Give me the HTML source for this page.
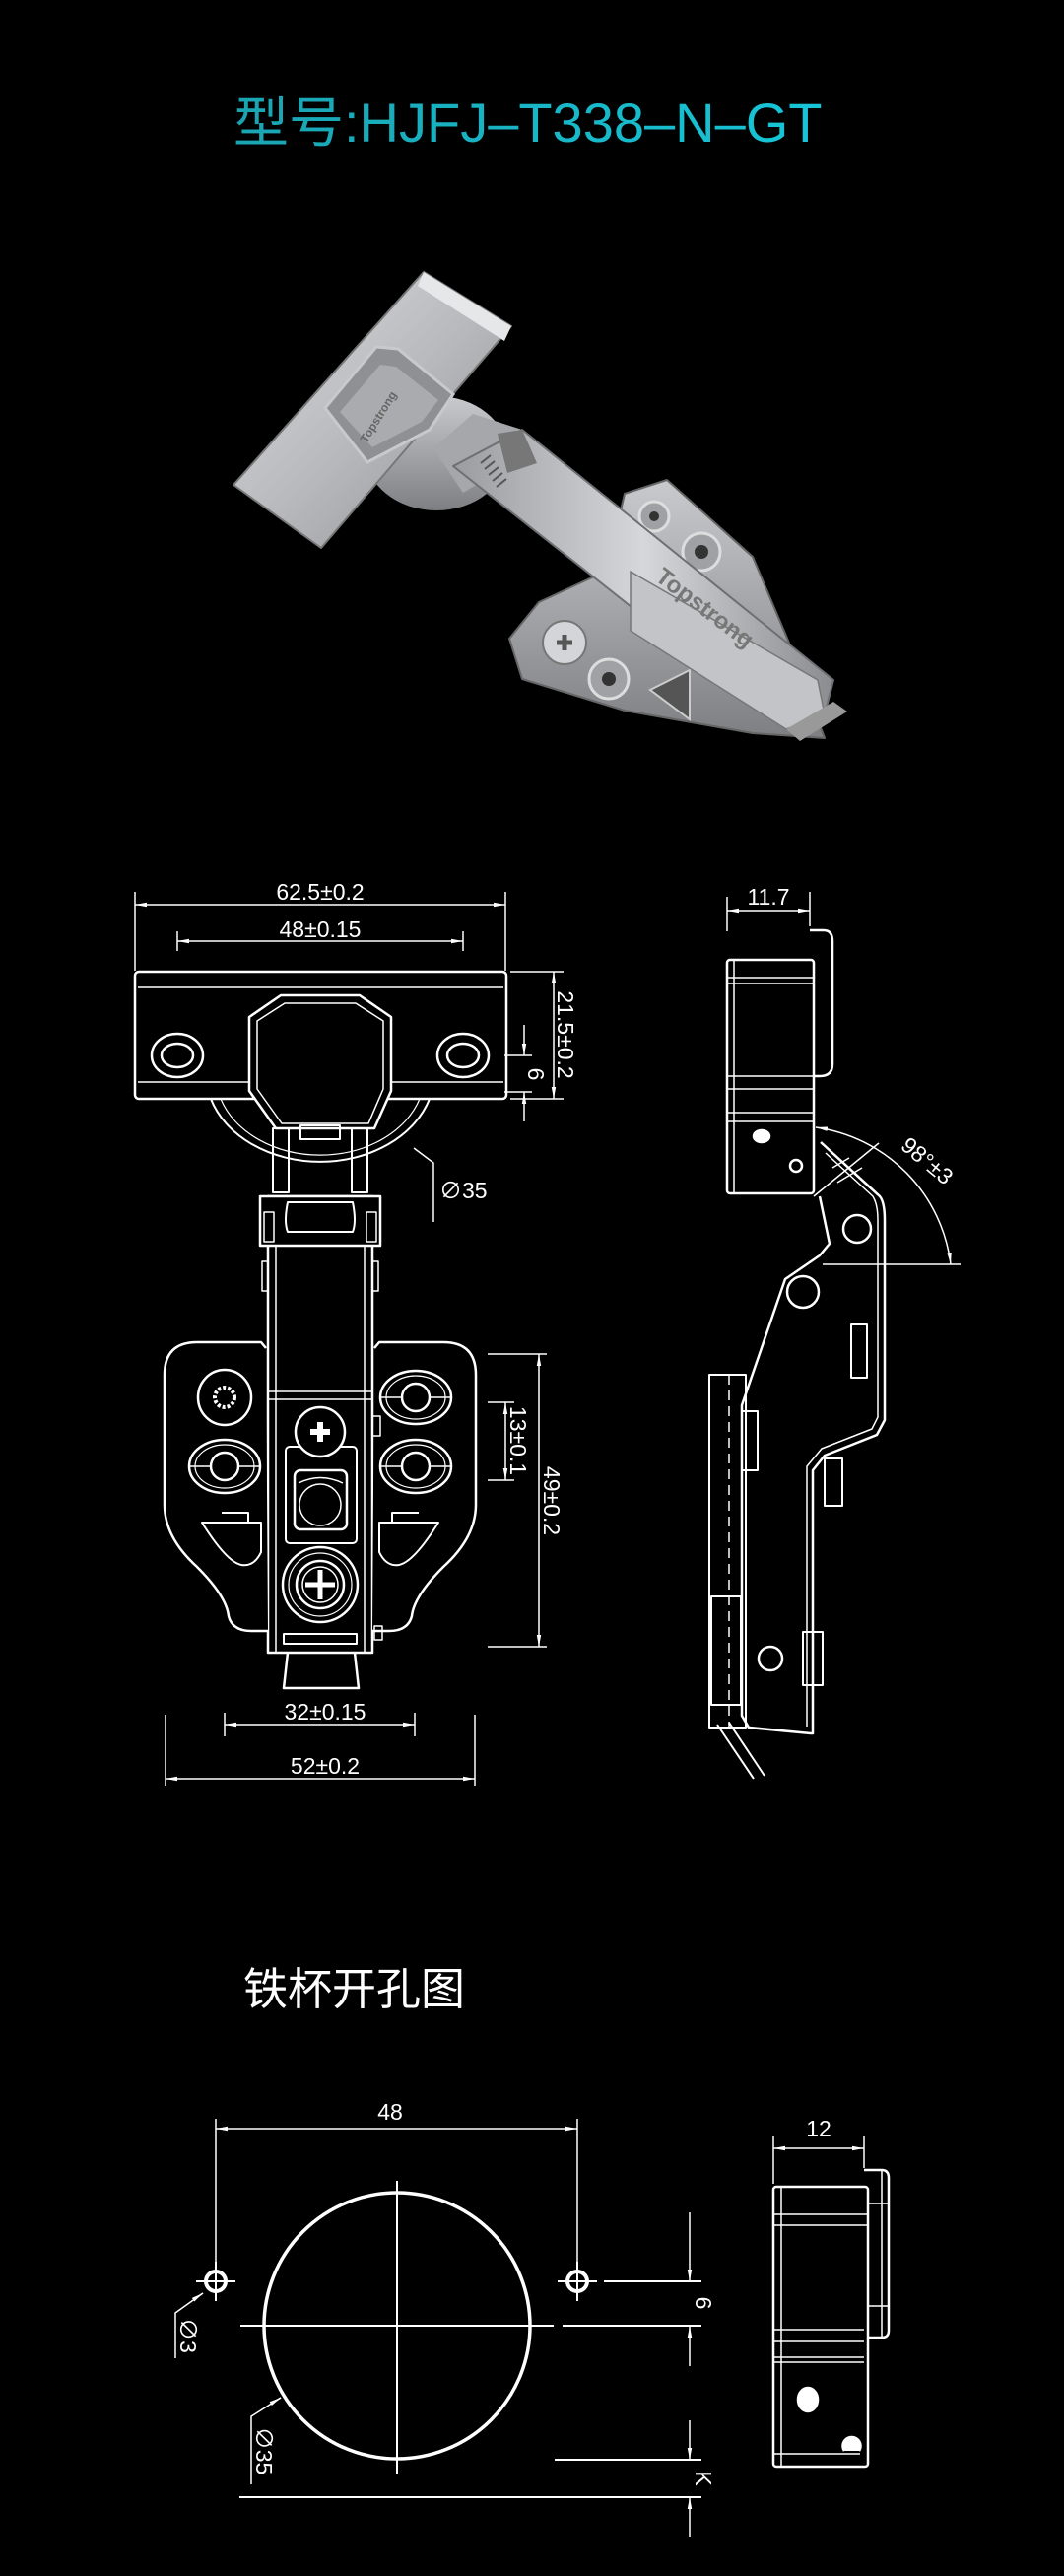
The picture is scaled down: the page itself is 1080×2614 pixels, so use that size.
<!DOCTYPE html>
<html><head><meta charset="utf-8">
<style>
html,body{margin:0;padding:0;background:#000;}
svg{display:block;}
text{font-family:"Liberation Sans","Noto Sans CJK SC",sans-serif;}
</style></head>
<body>
<svg width="1080" height="2614" viewBox="0 0 1080 2614" xmlns="http://www.w3.org/2000/svg">
<defs>
<marker id="ar" viewBox="0 0 12 6" refX="12" refY="3" markerWidth="12" markerHeight="6" markerUnits="userSpaceOnUse" orient="auto-start-reverse">
<path d="M0,0.8 L12,3 L0,5.2 z" fill="#fff"/></marker>
<linearGradient id="tg" x1="0" x2="1" y1="0" y2="0"><stop offset="0" stop-color="#1aa4b2"/><stop offset="1" stop-color="#16c6d8"/></linearGradient>
<linearGradient id="m1" x1="0" y1="0" x2="1" y2="1"><stop offset="0" stop-color="#dcdde0"/><stop offset=".5" stop-color="#b8babd"/><stop offset="1" stop-color="#8d8f93"/></linearGradient>
<linearGradient id="m2" x1="0" y1="0" x2="1" y2="0"><stop offset="0" stop-color="#9a9ca0"/><stop offset=".5" stop-color="#d6d7da"/><stop offset="1" stop-color="#8a8c90"/></linearGradient>
<linearGradient id="m3" x1="0" y1="0" x2="0" y2="1"><stop offset="0" stop-color="#c9cacd"/><stop offset="1" stop-color="#7d7f83"/></linearGradient>
</defs>
<rect width="1080" height="2614" fill="#000"/>

<!-- Title -->
<text x="237" y="144" font-size="56" fill="url(#tg)">型号:HJFJ–T338–N–GT</text>

<!-- Photo -->
<g>
 <ellipse cx="443" cy="460" rx="72" ry="58" fill="url(#m3)"/>
 <polygon points="430,276 519,331 326,556 237,492" fill="url(#m1)" stroke="#777" stroke-width="2" stroke-linejoin="round"/>
 <polygon points="430,276 519,331 512,346 424,290" fill="#e6e7e9"/>
 <polygon points="330,414 382,352 404,354 460,400 436,436 373,469" fill="#8e9094" stroke="#c8c9cc" stroke-width="3"/>
 <polygon points="345,418 386,370 402,372 445,406 428,428 378,454" fill="#a9abae"/>
 <text x="0" y="0" font-size="12" font-weight="bold" fill="#666" transform="translate(372,450) rotate(-58)">Topstrong</text>
 <polygon points="634,501 677,487 764,565 800,650 837,749 764,744 634,721 530,689 517,648 547,611 616,579" fill="url(#m3)" stroke="#666" stroke-width="2" stroke-linejoin="round"/>
 <circle cx="573" cy="652" r="22" fill="#d4d5d8" stroke="#777" stroke-width="2"/>
 <path d="M565,652h16M573,644v16" stroke="#555" stroke-width="5"/>
 <circle cx="618" cy="689" r="20" fill="#9fa1a5" stroke="#ddd" stroke-width="3"/><circle cx="618" cy="689" r="7" fill="#333"/>
 <circle cx="712" cy="560" r="19" fill="#9fa1a5" stroke="#ddd" stroke-width="3"/><circle cx="712" cy="560" r="7" fill="#333"/>
 <circle cx="664" cy="524" r="15" fill="#9fa1a5" stroke="#ddd" stroke-width="3"/><circle cx="664" cy="524" r="5" fill="#333"/>
 <polygon points="690,640 715,600 730,650" fill="#555" stroke="#ccc" stroke-width="2"/>
 <polygon points="660,700 700,680 700,730" fill="#555" stroke="#ccc" stroke-width="2"/>
 <polygon points="440,455 480,420 530,436 520,470 470,500" fill="#a5a7ab"/>
 <polygon points="460,473 530,436 846,690 837,725 798,740" fill="url(#m2)" stroke="#6d6f73" stroke-width="2" stroke-linejoin="round"/>
 <polygon points="505,440 530,436 545,470 515,480" fill="#777"/>
 <g stroke="#555" stroke-width="2"><path d="M488,470l10,-8M492,476l10,-8M496,482l10,-8M500,488l10,-8M504,494l10,-8"/></g>
 <polygon points="640,580 830,690 837,725 798,740 640,640" fill="#c3c4c7" stroke="#777" stroke-width="1.5"/>
 <text x="0" y="0" font-size="24" font-weight="bold" fill="#777" transform="translate(664,588) rotate(37)">Topstrong</text>
 <polygon points="798,740 846,712 860,722 812,752" fill="#999"/>
</g>

<!-- ===== Front view drawing ===== -->
<g fill="none" stroke="#fff" stroke-width="1.5">
 <!-- dims top -->
 <line x1="137" y1="905" x2="137" y2="985"/><line x1="513" y1="905" x2="513" y2="985"/>
 <line x1="137" y1="918" x2="513" y2="918" marker-start="url(#ar)" marker-end="url(#ar)"/>
 <line x1="180" y1="945" x2="180" y2="965"/><line x1="470" y1="945" x2="470" y2="965"/>
 <line x1="180" y1="955" x2="470" y2="955" marker-start="url(#ar)" marker-end="url(#ar)"/>
 <!-- 21.5 -->
 <line x1="518" y1="986" x2="572" y2="986"/><line x1="518" y1="1115" x2="572" y2="1115"/>
 <line x1="562" y1="986" x2="562" y2="1115" marker-start="url(#ar)" marker-end="url(#ar)"/>
 <!-- 6 -->
 <line x1="512" y1="1071" x2="540" y2="1071"/><line x1="512" y1="1108" x2="540" y2="1108"/>
 <line x1="532" y1="1040" x2="532" y2="1071" marker-end="url(#ar)"/>
 <line x1="532" y1="1138" x2="532" y2="1108" marker-end="url(#ar)"/>
 <!-- 49 / 13 -->
 <line x1="495" y1="1374" x2="555" y2="1374"/><line x1="495" y1="1671" x2="555" y2="1671"/>
 <line x1="547" y1="1374" x2="547" y2="1671" marker-start="url(#ar)" marker-end="url(#ar)"/>
 <line x1="495" y1="1423" x2="522" y2="1423"/><line x1="495" y1="1502" x2="522" y2="1502"/>
 <line x1="513" y1="1423" x2="513" y2="1502" marker-start="url(#ar)" marker-end="url(#ar)"/>
 <!-- bottom dims -->
 <line x1="228" y1="1738" x2="228" y2="1762"/><line x1="421" y1="1738" x2="421" y2="1762"/>
 <line x1="228" y1="1750" x2="421" y2="1750" marker-start="url(#ar)" marker-end="url(#ar)"/>
 <line x1="168" y1="1740" x2="168" y2="1812"/><line x1="482" y1="1740" x2="482" y2="1812"/>
 <line x1="168" y1="1805" x2="482" y2="1805" marker-start="url(#ar)" marker-end="url(#ar)"/>
 <!-- leader Ø35 -->
 <polyline points="420,1165 440,1180 440,1240"/>
</g>
<g fill="#fff" font-size="23">
 <text x="325" y="913" text-anchor="middle">62.5±0.2</text>
 <text x="325" y="951" text-anchor="middle">48±0.15</text>
 <text x="330" y="1745" text-anchor="middle">32±0.15</text>
 <text x="330" y="1800" text-anchor="middle">52±0.2</text>
 <text x="446" y="1216">∅35</text>
 <text transform="translate(566,1050) rotate(90)" text-anchor="middle">21.5±0.2</text>
 <text transform="translate(536,1090) rotate(90)" text-anchor="middle">6</text>
 <text transform="translate(518,1462) rotate(90)" text-anchor="middle">13±0.1</text>
 <text transform="translate(552,1523) rotate(90)" text-anchor="middle">49±0.2</text>
</g>

<g fill="none" stroke="#fff" stroke-width="2.5" stroke-linejoin="round">
 <!-- cup plate -->
 <rect x="137" y="986" width="377" height="129" rx="4"/>
 <line x1="140" y1="1002" x2="511" y2="1002" stroke-width="1.5"/>
 <line x1="140" y1="1098" x2="511" y2="1098" stroke-width="1.5"/>
 <ellipse cx="180" cy="1071" rx="26" ry="22"/><ellipse cx="180" cy="1071" rx="16" ry="12"/>
 <ellipse cx="470" cy="1071" rx="26" ry="22"/><ellipse cx="470" cy="1071" rx="16" ry="12"/>
 <!-- arc of cup -->
 <path d="M214,1115 A116,90 0 0 0 436,1115" stroke-width="2"/>
 <path d="M224,1115 A106,82 0 0 0 426,1115" stroke-width="1.2"/>
 <!-- octagon -->
 <path d="M285,1010 H365 L397,1032 V1107 L380,1145 H280 L253,1107 V1032 Z" fill="#000"/>
 <path d="M289,1018 H361 L389,1036 V1105 L374,1140 H286 L261,1105 V1036 Z" stroke-width="1.5"/>
 <rect x="305" y="1142" width="40" height="14" stroke-width="2"/>
 <!-- lugs -->
 <rect x="277" y="1145" width="16" height="65" stroke-width="2"/>
 <rect x="357" y="1145" width="16" height="65" stroke-width="2"/>
 <!-- arm -->
 <rect x="272" y="1214" width="106" height="463" fill="#000"/>
 <line x1="280" y1="1214" x2="280" y2="1677" stroke-width="1.5"/>
 <line x1="370" y1="1214" x2="370" y2="1677" stroke-width="1.5"/>
 <rect x="264" y="1214" width="122" height="50" fill="#000"/>
 <path d="M292,1220 H358 Q362,1240 358,1250 H292 Q288,1240 292,1220 Z" stroke-width="2"/>
 <rect x="268" y="1230" width="10" height="30" stroke-width="1.5"/><rect x="372" y="1230" width="10" height="30" stroke-width="1.5"/>
 <rect x="266" y="1280" width="6" height="30" stroke-width="1.5"/><rect x="378" y="1280" width="6" height="30" stroke-width="1.5"/>
 <!-- base plate -->
 <path d="M270,1368 L265,1362 H200 Q167,1362 167,1395 V1527 Q167,1560 200,1590 Q230,1620 232,1640 Q236,1655 255,1655 H272" fill="#000"/>
 <path d="M380,1368 L385,1362 H450 Q483,1362 483,1395 V1527 Q483,1560 450,1590 Q420,1620 418,1640 Q414,1655 395,1655 H378" fill="#000"/>
 <!-- holes -->
 <ellipse cx="228" cy="1418" rx="27" ry="28"/><circle cx="228" cy="1418" r="10" stroke-width="4" stroke-dasharray="3 2"/>
 <ellipse cx="228" cy="1488" rx="36" ry="27"/><ellipse cx="228" cy="1488" rx="30" ry="22" stroke-width="1.2"/><circle cx="228" cy="1488" r="14"/>
 <line x1="192" y1="1488" x2="214" y2="1488" stroke-width="1.5"/><line x1="242" y1="1488" x2="264" y2="1488" stroke-width="1.5"/>
 <ellipse cx="422" cy="1418" rx="36" ry="27"/><ellipse cx="422" cy="1418" rx="30" ry="22" stroke-width="1.2"/><circle cx="422" cy="1418" r="14"/>
 <line x1="386" y1="1418" x2="408" y2="1418" stroke-width="1.5"/><line x1="436" y1="1418" x2="458" y2="1418" stroke-width="1.5"/>
 <ellipse cx="422" cy="1488" rx="36" ry="27"/><ellipse cx="422" cy="1488" rx="30" ry="22" stroke-width="1.2"/><circle cx="422" cy="1488" r="14"/>
 <line x1="386" y1="1488" x2="408" y2="1488" stroke-width="1.5"/><line x1="436" y1="1488" x2="458" y2="1488" stroke-width="1.5"/>
 <!-- slots -->
 <path d="M205,1545 H265 V1575 Q258,1590 245,1588 Q230,1585 205,1545 Z" stroke-width="2"/>
 <path d="M225,1535 H252 V1545" stroke-width="2"/>
 <path d="M445,1545 H385 V1575 Q392,1590 405,1588 Q420,1585 445,1545 Z" stroke-width="2"/>
 <path d="M425,1535 H398 V1545" stroke-width="2"/>
 <!-- center parts -->
 <line x1="272" y1="1412" x2="378" y2="1412" stroke-width="1.5"/><line x1="272" y1="1420" x2="378" y2="1420" stroke-width="1.5"/>
 <rect x="378" y="1437" width="8" height="20" stroke-width="1.5"/>
 <rect x="290" y="1468" width="72" height="98" rx="4" stroke-width="2"/>
 <circle cx="325" cy="1453" r="25" fill="#000"/>
 <path d="M315,1453 h20 M325,1443 v20" stroke-width="6"/>
 <rect x="299" y="1492" width="53" height="60" rx="6"/>
 <path d="M303,1505 Q325,1494 348,1505" stroke-width="1.5"/>
 <circle cx="325" cy="1527" r="21" stroke-width="1.5"/>
 <circle cx="325" cy="1608" r="38"/><circle cx="325" cy="1608" r="32" stroke-width="1.2"/>
 <circle cx="325" cy="1608" r="24"/><circle cx="325" cy="1608" r="18" stroke-width="1.5"/>
 <path d="M310,1608 h30 M325,1593 v30" stroke-width="5"/>
 <rect x="288" y="1658" width="74" height="10" stroke-width="2"/>
 <rect x="380" y="1650" width="8" height="14" stroke-width="1.5"/>
 <path d="M292,1677 L288,1713 H364 L360,1677"/>
</g>

<!-- ===== Side view ===== -->
<g fill="none" stroke="#fff" stroke-width="1.5">
 <line x1="738" y1="910" x2="738" y2="945"/><line x1="822" y1="905" x2="822" y2="940"/>
 <line x1="738" y1="924" x2="822" y2="924" marker-start="url(#ar)" marker-end="url(#ar)"/>
 <line x1="835" y1="1283" x2="975" y2="1283"/>
 <path d="M828,1144 A160,160 0 0 1 965,1283" marker-start="url(#ar)" marker-end="url(#ar)"/>
</g>
<g fill="#fff" font-size="23">
 <text x="780" y="918" text-anchor="middle">11.7</text>
 <text transform="translate(936,1184) rotate(40)" text-anchor="middle">98°±3</text>
</g>
<g fill="none" stroke="#fff" stroke-width="2.5" stroke-linejoin="round">
 <path d="M822,944 H836 Q845,944 845,955 V1080 Q845,1092 832,1092 H826"/>
 <rect x="738" y="974" width="88" height="237" rx="3"/>
 <g stroke-width="1.5">
  <line x1="745" y1="974" x2="745" y2="1211"/>
  <line x1="738" y1="992" x2="826" y2="992"/><line x1="738" y1="998" x2="826" y2="998"/>
  <line x1="738" y1="1092" x2="826" y2="1092"/><line x1="738" y1="1105" x2="826" y2="1105"/>
  <line x1="738" y1="1129" x2="826" y2="1129"/><line x1="738" y1="1138" x2="826" y2="1138"/>
 </g>
 <ellipse cx="773" cy="1153" rx="8" ry="6" fill="#fff"/>
 <circle cx="808" cy="1183" r="6"/>
 <path d="M833,1159 L893,1214 Q898,1220 898,1238 V1441 L890,1456 L837,1477 L825,1492 V1759 L823,1759 L760,1753 L753,1741 V1426 L797,1298 L832,1274 L842,1262 L832,1214"/>
 <path d="M838,1170 L886,1214 Q891,1222 891,1238 V1438 L885,1450 L834,1470 L819,1488 V1752" stroke-width="1.5"/>
 <path d="M826,1214 L892,1160" stroke-width="1.5"/>
 <path d="M845,1185 L862,1175 M850,1200 L875,1185" stroke-width="1.5"/>
 <circle cx="870" cy="1247" r="14"/>
 <circle cx="815" cy="1311" r="16"/>
 <circle cx="782" cy="1683" r="12"/>
 <rect x="864" y="1344" width="16" height="54" stroke-width="2"/>
 <rect x="720" y="1395" width="37" height="358" stroke-width="2"/>
 <line x1="740" y1="1395" x2="740" y2="1753" stroke-width="1.5" stroke-dasharray="10 6"/>
 <rect x="722" y="1620" width="30" height="110" stroke-width="2"/>
 <rect x="753" y="1432" width="16" height="60" stroke-width="2"/>
 <rect x="837" y="1480" width="18" height="48" stroke-width="2"/>
 <rect x="815" y="1656" width="20" height="54" stroke-width="2"/>
 <path d="M728,1750 L765,1805 M740,1748 L776,1802" stroke-width="2"/>
</g>

<!-- ===== 铁杯开孔图 ===== -->
<text x="247" y="2034" font-size="45" fill="#fff">铁杯开孔图</text>
<g fill="none" stroke="#fff" stroke-width="1.5">
 <line x1="219" y1="2150" x2="219" y2="2300"/><line x1="586" y1="2150" x2="586" y2="2300"/>
 <line x1="219" y1="2160" x2="586" y2="2160" marker-start="url(#ar)" marker-end="url(#ar)"/>
 <line x1="613" y1="2315" x2="712" y2="2315" stroke-width="2"/>
 <line x1="571" y1="2360" x2="712" y2="2360" stroke-width="2"/>
 <line x1="700" y1="2245" x2="700" y2="2315" marker-end="url(#ar)"/>
 <line x1="700" y1="2401" x2="700" y2="2360" marker-end="url(#ar)"/>
 <line x1="563" y1="2496" x2="712" y2="2496" stroke-width="2"/>
 <line x1="243" y1="2534" x2="712" y2="2534" stroke-width="2"/>
 <line x1="700" y1="2456" x2="700" y2="2496" marker-end="url(#ar)"/>
 <line x1="700" y1="2574" x2="700" y2="2534" marker-end="url(#ar)"/>
 <polyline points="206,2327 178,2347 178,2393"/>
 <line x1="206" y1="2327" x2="200" y2="2331" marker-start="url(#ar)"/>
 <polyline points="285,2433 255,2452 255,2521"/>
 <line x1="285" y1="2433" x2="280" y2="2436" marker-start="url(#ar)"/>
 <line x1="785" y1="2168" x2="785" y2="2216"/><line x1="877" y1="2168" x2="877" y2="2200"/>
 <line x1="785" y1="2180" x2="877" y2="2180" marker-start="url(#ar)" marker-end="url(#ar)"/>
</g>
<g fill="none" stroke="#fff">
 <circle cx="403" cy="2360" r="135" stroke-width="3.5"/>
 <line x1="244" y1="2360" x2="562" y2="2360" stroke-width="2"/>
 <line x1="403" y1="2213" x2="403" y2="2511" stroke-width="2"/>
 <circle cx="219" cy="2315" r="10" stroke-width="4"/>
 <line x1="199" y1="2315" x2="239" y2="2315" stroke-width="2"/><line x1="219" y1="2295" x2="219" y2="2335" stroke-width="2"/>
 <circle cx="586" cy="2315" r="10" stroke-width="4"/>
 <line x1="566" y1="2315" x2="606" y2="2315" stroke-width="2"/><line x1="586" y1="2295" x2="586" y2="2335" stroke-width="2"/>
</g>
<g fill="#fff" font-size="23">
 <text x="396" y="2151" text-anchor="middle">48</text>
 <text x="831" y="2168" text-anchor="middle">12</text>
 <text transform="translate(706,2337) rotate(90)" text-anchor="middle">6</text>
 <text transform="translate(706,2515) rotate(90)" text-anchor="middle">K</text>
 <text transform="translate(183,2370) rotate(90)" text-anchor="middle">∅3</text>
 <text transform="translate(260,2487) rotate(90)" text-anchor="middle">∅35</text>
</g>
<g fill="none" stroke="#fff" stroke-width="2.5" stroke-linejoin="round">
 <path d="M877,2202 H895 Q902,2202 902,2210 V2365 Q902,2372 895,2372 H881"/>
 <line x1="895" y1="2202" x2="895" y2="2372" stroke-width="1.5"/>
 <line x1="881" y1="2236" x2="902" y2="2236" stroke-width="1.5"/>
 <line x1="881" y1="2340" x2="902" y2="2340" stroke-width="1.5"/>
 <rect x="785" y="2219" width="96" height="284" rx="3"/>
 <g stroke-width="1.5">
  <line x1="793" y1="2219" x2="793" y2="2503"/>
  <line x1="785" y1="2247" x2="881" y2="2247"/><line x1="785" y1="2258" x2="881" y2="2258"/>
  <line x1="785" y1="2364" x2="877" y2="2364"/><line x1="785" y1="2376" x2="877" y2="2376"/>
  <line x1="785" y1="2392" x2="877" y2="2392"/><line x1="785" y1="2397" x2="877" y2="2397"/>
  <line x1="785" y1="2490" x2="873" y2="2490"/>
 </g>
 <ellipse cx="820" cy="2435" rx="10" ry="12" fill="#fff"/>
 <path d="M857,2487 A9,9 0 1 1 872,2487" fill="#fff"/>
</g>
</svg>
</body></html>
